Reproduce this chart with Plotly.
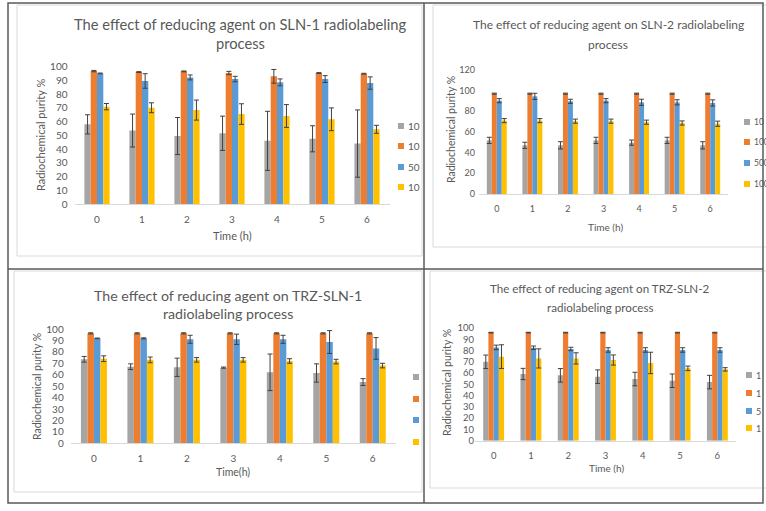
import plotly.graph_objects as go

W, H = 766, 511

times = ["0", "1", "2", "3", "4", "5", "6"]
series_names = ["10", "100", "500", "1000"]
colors = ["#A5A5A5", "#ED7D31", "#5B9BD5", "#FFC000"]

# SLN-1
sln1_gray = [58, 53.5, 49.5, 51.5, 46, 47.5, 44]
sln1_gray_err = [7, 12, 13.5, 12.5, 21.5, 9.5, 24.5]
sln1_orange = [96.8, 96.1, 96.6, 95.4, 93, 95.4, 94.9]
sln1_orange_err = [0.5, 0.3, 0.3, 1.2, 5, 0.3, 0.3]
sln1_blue = [95.1, 89.6, 92.2, 91, 88.6, 91, 88.1]
sln1_blue_err = [0.3, 5.3, 1.8, 2, 2.5, 2.5, 4.5]
sln1_yellow = [70.9, 70.1, 68.4, 65.5, 64.1, 61.7, 54.4]
sln1_yellow_err = [2.3, 3.6, 7.3, 7.5, 8.3, 8.3, 2.9]

# SLN-2
sln2_gray = [51.9, 47.1, 47.1, 51.9, 49.7, 51.9, 47.1]
sln2_gray_err = [3, 3, 3.5, 3, 2.5, 3, 3.5]
sln2_orange = [97.1, 97.1, 97.1, 97.1, 97.1, 97.1, 97.1]
sln2_orange_err = [0.5, 0.5, 0.5, 0.5, 0.5, 0.5, 0.5]
sln2_blue = [90.3, 94.5, 89.7, 90.3, 88.7, 88.7, 88.1]
sln2_blue_err = [2, 3, 2, 2, 3, 2.5, 3]
sln2_yellow = [71, 71, 70.5, 70.5, 69.5, 68.7, 68]
sln2_yellow_err = [2, 2, 2, 2, 2, 2, 2.5]

# TRZ-SLN-1
trz1_gray = [73.5, 67, 66.5, 66.2, 62.1, 61.5, 53.6]
trz1_gray_err = [2.5, 2.5, 8, 0.5, 16, 8, 3]
trz1_orange = [96.2, 96.2, 96.2, 96.2, 96.2, 96.2, 96.2]
trz1_orange_err = [0.5, 0.5, 0.5, 0.5, 0.5, 0.5, 0.5]
trz1_blue = [91.8, 91.8, 91, 91, 91, 88.6, 83]
trz1_blue_err = [0.3, 0.5, 3.5, 4.5, 3.5, 10, 9.5]
trz1_yellow = [74, 73, 73, 73, 72, 71.5, 68]
trz1_yellow_err = [2.5, 2.5, 2, 2, 2, 2, 2]

# TRZ-SLN-2
trz2_gray = [70, 59.2, 58, 56.8, 54.7, 53.2, 52]
trz2_gray_err = [6, 5, 6, 6, 6, 6, 6]
trz2_orange = [95.9, 95.9, 95.9, 95.9, 95.9, 95.9, 95.9]
trz2_orange_err = [0.3, 0.3, 0.3, 0.3, 0.3, 0.3, 0.3]
trz2_blue = [82.8, 82.5, 81.4, 80.5, 80.5, 80.5, 80.5]
trz2_blue_err = [2, 1.5, 1.5, 2, 2, 2, 2]
trz2_yellow = [74.6, 73, 73, 71.6, 69, 64.2, 63.3]
trz2_yellow_err = [10.5, 8.5, 5, 4.5, 9.5, 2, 1.5]

FONT = "Lato"
GREY_TXT = "#595959"


def fx(x):
    return x / W


def fy(y):
    return 1 - y / H


panels = [
    dict(vals=[sln1_gray, sln1_orange, sln1_blue, sln1_yellow],
         errs=[sln1_gray_err, sln1_orange_err, sln1_blue_err, sln1_yellow_err],
         px=(74.5, 389.5), py=(204, 66.7), ymax=100, dtick=10, tfs=10, ystand=6,
         title=["The effect of reducing agent on SLN-1 radiolabeling", "process"],
         title_xy=(240, 24, 43), title_fs=14.7,
         ytitle_xy=(40, 135), ytitle_fs=11, xtitle="Time (h)", xtitle_xy=(232, 235), xtitle_fs=11,
         leg_x=401, leg_y=[126, 146, 167, 187], leg_txt=["10", "10", "50", "10"], leg_fs=10),
    dict(vals=[sln2_gray, sln2_orange, sln2_blue, sln2_yellow],
         errs=[sln2_gray_err, sln2_orange_err, sln2_blue_err, sln2_yellow_err],
         px=(479, 728), py=(194, 70), ymax=120, dtick=20, tfs=9, ystand=3,
         title=["The effect of reducing agent on SLN-2 radiolabeling", "process"],
         title_xy=(608, 25, 45), title_fs=12,
         ytitle_xy=(451, 130), ytitle_fs=10.5, xtitle="Time (h)", xtitle_xy=(605, 227), xtitle_fs=10,
         leg_x=747, leg_y=[122, 142, 163, 184], leg_txt=["10", "100", "500", "100"], leg_fs=8.5),
    dict(vals=[trz1_gray, trz1_orange, trz1_blue, trz1_yellow],
         errs=[trz1_gray_err, trz1_orange_err, trz1_blue_err, trz1_yellow_err],
         px=(70.7, 396), py=(443.3, 329), ymax=100, dtick=10, tfs=10, ystand=6,
         title=["The effect of reducing agent on TRZ-SLN-1", "radiolabeling process"],
         title_xy=(228, 295, 313), title_fs=14.2,
         ytitle_xy=(37, 387), ytitle_fs=10.5, xtitle="Time(h)", xtitle_xy=(233, 472), xtitle_fs=10.5,
         leg_x=416, leg_y=[377, 399, 420, 442], leg_txt=["", "", "", ""], leg_fs=10),
    dict(vals=[trz2_gray, trz2_orange, trz2_blue, trz2_yellow],
         errs=[trz2_gray_err, trz2_orange_err, trz2_blue_err, trz2_yellow_err],
         px=(475, 736), py=(440.7, 328), ymax=100, dtick=10, tfs=9.5, ystand=0,
         title=["The effect of reducing agent on TRZ-SLN-2", "radiolabeling process"],
         title_xy=(600, 288, 307), title_fs=11.6,
         ytitle_xy=(447, 383), ytitle_fs=10.5, xtitle="Time (h)", xtitle_xy=(606, 468), xtitle_fs=10,
         leg_x=749, leg_y=[375, 393, 411, 428], leg_txt=["1", "1", "5", "1"], leg_fs=9),
]

fig = go.Figure()
annotations = []
shapes = []
layout_axes = {}

for i, p in enumerate(panels):
    n = "" if i == 0 else str(i + 1)
    for k in range(4):
        fig.add_trace(go.Bar(
            x=times, y=p["vals"][k], name=series_names[k],
            marker=dict(color=colors[k], line=dict(width=0)),
            error_y=dict(type="data", array=p["errs"][k], color="#404040", thickness=1, width=2.5),
            xaxis="x" + n, yaxis="y" + n, showlegend=False,
        ))

    layout_axes["xaxis" + n] = dict(
        domain=[fx(p["px"][0]), fx(p["px"][1])], anchor="y" + n, type="category",
        range=[-0.5, 6.5], showgrid=False, zeroline=False, showline=True, automargin=False,
        linecolor="#D9D9D9", linewidth=1, ticks="", ticklabelstandoff=6,
        tickfont=dict(family=FONT, size=p["tfs"], color=GREY_TXT),
    )
    layout_axes["yaxis" + n] = dict(
        domain=[fy(p["py"][0]), fy(p["py"][1])], anchor="x" + n, automargin=False,
        range=[0, p["ymax"]], dtick=p["dtick"], showgrid=False, zeroline=False,
        showline=False, ticks="", ticklabelstandoff=p["ystand"],
        tickfont=dict(family=FONT, size=p["tfs"], color=GREY_TXT),
    )

    tx, ty1, ty2 = p["title_xy"]
    for txt, ty in zip(p["title"], [ty1, ty2]):
        annotations.append(dict(text=txt, x=fx(tx), y=fy(ty), xref="paper", yref="paper",
                                showarrow=False, xanchor="center", yanchor="middle",
                                font=dict(family=FONT, size=p["title_fs"], color=GREY_TXT)))
    annotations.append(dict(text="Radiochemical purity %", x=fx(p["ytitle_xy"][0]), y=fy(p["ytitle_xy"][1]),
                            xref="paper", yref="paper", showarrow=False, textangle=-90,
                            xanchor="center", yanchor="middle",
                            font=dict(family=FONT, size=p["ytitle_fs"], color=GREY_TXT)))
    annotations.append(dict(text=p["xtitle"], x=fx(p["xtitle_xy"][0]), y=fy(p["xtitle_xy"][1]),
                            xref="paper", yref="paper", showarrow=False,
                            xanchor="center", yanchor="middle",
                            font=dict(family=FONT, size=p["xtitle_fs"], color=GREY_TXT)))
    # legend (clipped in the original screenshot)
    for k in range(4):
        lx, ly = p["leg_x"], p["leg_y"][k]
        shapes.append(dict(type="rect", xref="paper", yref="paper",
                           x0=fx(lx - 3), x1=fx(lx + 3), y0=fy(ly + 3), y1=fy(ly - 3),
                           fillcolor=colors[k], line=dict(width=0)))
        if p["leg_txt"][k]:
            annotations.append(dict(text=p["leg_txt"][k], x=fx(lx + 5), y=fy(ly), xref="paper", yref="paper",
                                    showarrow=False, xanchor="left", yanchor="middle",
                                    font=dict(family=FONT, size=p["leg_fs"], color=GREY_TXT)))

# light chart-area boxes
for x0, y0, x1, y1 in [(17, 5, 422, 256), (433, 5, 770, 247), (14, 271, 422, 492), (430, 271, 770, 488)]:
    shapes.append(dict(type="rect", xref="paper", yref="paper", x0=fx(x0), x1=fx(x1), y0=fy(y1), y1=fy(y0),
                       line=dict(color="#D9D9D9", width=1), layer="below"))

# dark frame lines
frame = "#595959"
shapes.append(dict(type="rect", xref="paper", yref="paper", x0=fx(8), x1=fx(763), y0=fy(503), y1=fy(3),
                   line=dict(color=frame, width=1.5)))
shapes.append(dict(type="line", xref="paper", yref="paper", x0=fx(424), x1=fx(424), y0=fy(503), y1=fy(3),
                   line=dict(color=frame, width=1.5)))
shapes.append(dict(type="line", xref="paper", yref="paper", x0=fx(8), x1=fx(763), y0=fy(269), y1=fy(269),
                   line=dict(color=frame, width=1.5)))

fig.update_layout(
    width=W, height=H, margin=dict(l=0, r=0, t=0, b=0),
    paper_bgcolor="white", plot_bgcolor="white",
    barmode="group", bargap=0.44, bargroupgap=0,
    annotations=annotations, shapes=shapes,
    **layout_axes,
)

fig.write_html("out.html", config={"displayModeBar": False},
               post_script="document.body.style.margin='0';")
